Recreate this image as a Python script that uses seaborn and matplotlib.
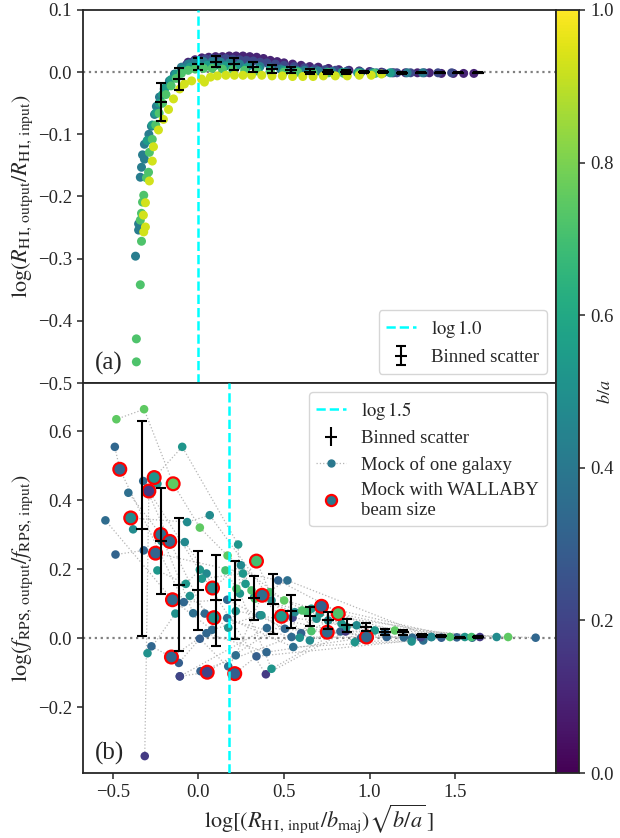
import numpy as np
import pandas as pd
import matplotlib
matplotlib.use('Agg')
import matplotlib.pyplot as plt
from matplotlib.lines import Line2D
import seaborn as sns

# ---- panel (a): R_HI recovery, tracks of mock points (x, y) with b/a ----
track_ba = [0.10, 0.22, 0.42, 0.55, 0.72, 0.93]
track_x = [
    [-0.06, -0.02, 0.02, 0.06, 0.10, 0.14, 0.18, 0.22, 0.26, 0.30, 0.34, 0.38, 0.42, 0.46, 0.50, 0.55, 0.60,
     0.65, 0.70, 0.76, 0.82, 0.88, 0.94, 1.00, 1.07, 1.14, 1.21, 1.28, 1.35, 1.42, 1.49, 1.55, 1.61],
    [-0.14, -0.10, -0.07, -0.04, 0.00, 0.04, 0.08, 0.12, 0.16, 0.20, 0.24, 0.28, 0.32, 0.36, 0.40, 0.45,
     0.50, 0.56, 0.62, 0.68, 0.74, 0.80, 0.87, 0.94, 1.01, 1.08, 1.16, 1.24, 1.32, 1.40, 1.48],
    [-0.368, -0.35, -0.35, -0.34, -0.333, -0.327, -0.316, -0.316, -0.29, -0.275, -0.257, -0.246, -0.228,
     -0.20, -0.17, -0.14, -0.10, -0.06, -0.02, 0.03, 0.08, 0.13, 0.18, 0.24, 0.30, 0.36, 0.42, 0.48, 0.55,
     0.62, 0.70, 0.78, 0.86, 0.95, 1.04, 1.13, 1.22, 1.31],
    [-0.30, -0.27, -0.25, -0.23, -0.21, -0.19, -0.16, -0.13, -0.09, -0.05, 0.00, 0.05, 0.10, 0.16, 0.22,
     0.28, 0.35, 0.42, 0.50, 0.58, 0.66, 0.75, 0.84, 0.93, 1.02, 1.12],
    [-0.363, -0.363, -0.34, -0.333, -0.34, -0.333, -0.327, -0.32, -0.304, -0.292, -0.287, -0.27, -0.25,
     -0.23, -0.21, -0.19, -0.16, -0.13, -0.10, -0.06, -0.02, 0.03, 0.08, 0.14, 0.20, 0.27, 0.34, 0.42,
     0.50, 0.58, 0.67, 0.76, 0.85, 0.94, 1.03],
    [-0.322, -0.32, -0.31, -0.31, -0.287, -0.27, -0.263, -0.234, -0.205, -0.175, -0.146, -0.11, -0.082,
     -0.04, 0.018, 0.035, 0.07, 0.11, 0.16, 0.21, 0.26, 0.31, 0.37, 0.43, 0.49, 0.55, 0.61, 0.67, 0.73,
     0.80, 0.87, 0.94, 1.01, 1.07],
]
track_y = [
    [0.016, 0.020, 0.023, 0.024, 0.025, 0.025, 0.026, 0.026, 0.026, 0.025, 0.024, 0.022, 0.019, 0.017,
     0.015, 0.013, 0.011, 0.009, 0.008, 0.006, 0.004, 0.003, 0.002, 0.001, 0.000, -0.001, -0.001, -0.001,
     -0.001, -0.002, -0.002, -0.002, -0.002],
    [-0.004, 0.006, 0.012, 0.016, 0.019, 0.021, 0.022, 0.022, 0.022, 0.021, 0.020, 0.019, 0.018, 0.016,
     0.015, 0.013, 0.011, 0.009, 0.007, 0.005, 0.004, 0.003, 0.002, 0.001, 0.000, -0.001, -0.001, -0.001,
     -0.001, -0.001, -0.001],
    [-0.296, -0.254, -0.244, -0.169, -0.153, -0.133, -0.140, -0.116, -0.100, -0.087, -0.068, -0.055, -0.040,
     -0.027, -0.014, -0.003, 0.008, 0.013, 0.016, 0.017, 0.017, 0.016, 0.015, 0.013, 0.011, 0.009, 0.007,
     0.005, 0.004, 0.003, 0.002, 0.001, 0.000, 0.000, -0.001, -0.001, -0.001, -0.001],
    [-0.110, -0.085, -0.066, -0.050, -0.036, -0.024, -0.012, -0.003, 0.004, 0.008, 0.010, 0.011, 0.011,
     0.010, 0.009, 0.007, 0.005, 0.004, 0.003, 0.002, 0.001, 0.000, 0.000, -0.001, -0.001, -0.001],
    [-0.466, -0.429, -0.342, -0.272, -0.238, -0.227, -0.209, -0.198, -0.170, -0.161, -0.129, -0.108, -0.085,
     -0.066, -0.050, -0.036, -0.022, -0.010, -0.002, 0.003, 0.005, 0.006, 0.006, 0.005, 0.004, 0.003, 0.002,
     0.001, 0.000, 0.000, -0.001, -0.001, -0.002, -0.002, -0.002],
    [-0.230, -0.257, -0.249, -0.210, -0.175, -0.143, -0.120, -0.093, -0.076, -0.060, -0.043, -0.027, -0.019,
     -0.014, -0.011, -0.016, -0.008, -0.006, -0.005, -0.005, -0.005, -0.005, -0.005, -0.006, -0.006, -0.007,
     -0.007, -0.007, -0.006, -0.006, -0.006, -0.005, -0.005, -0.003],
]

bin_a_x = [-0.22, -0.113, 0.0, 0.105, 0.21, 0.32, 0.43, 0.54, 0.65, 0.76, 0.865, 0.97, 1.08, 1.19, 1.30,
           1.41, 1.52, 1.635]
bin_a_y = [-0.048, -0.011, 0.013, 0.017, 0.013, 0.008, 0.005, 0.003, 0.001, 0.000, 0.000, 0.000, 0.000,
           -0.001, -0.001, -0.001, -0.001, -0.001]
bin_a_err = [0.031, 0.017, 0.010, 0.009, 0.009, 0.008, 0.007, 0.005, 0.004, 0.003, 0.003, 0.002, 0.002,
             0.002, 0.001, 0.001, 0.001, 0.001]

# ---- panel (b): f_RPS recovery, one entry per galaxy ----
gal_ba = [0.33, 0.36, 0.34, 0.32, 0.35, 0.33, 0.30, 0.36, 0.31, 0.34, 0.33,
          0.17, 0.20,
          0.48, 0.52, 0.47, 0.50, 0.53,
          0.75, 0.70, 0.72]
gal_x = [
    [1.971, 1.09, 0.505, 0.168, -0.086, -0.46, -0.489],
    [1.314, 0.554, 0.168, -0.031, -0.22, -0.41],
    [1.20, 0.544, 0.037, -0.168, -0.323],
    [1.10, 0.466, -0.251, -0.32, -0.485],
    [1.00, 0.358, 0.08, -0.152, -0.544],
    [0.95, 0.398, 0.047, -0.158, -0.275],
    [1.42, 0.339, 0.212, 0.008, -0.115],
    [1.36, 0.52, 0.372, 0.218, 0.174],
    [1.51, 0.719, 0.60, 0.012],
    [1.25, 0.753, 0.40, -0.109],
    [1.60, 0.982, 0.83],
    [1.645, 0.86, 0.394, -0.29, -0.314],
    [1.30, 0.55, 0.051, -0.109],
    [1.743, 0.924, 0.651, 0.427, 0.066, -0.066, -0.396, -0.382],
    [1.557, 0.914, 0.865, 0.427, 0.242, 0.232, -0.095, -0.259, -0.24],
    [1.363, 0.758, 0.563, 0.326, 0.248, 0.082, 0.047, -0.08, -0.216],
    [1.246, 0.69, 0.592, 0.368, 0.218, 0.174, 0.09, -0.05, -0.135, -0.298],
    [1.031, 0.836, 0.709, 0.66, 0.485, 0.275, 0.26, 0.02, 0.008, -0.074, -0.24],
    [1.81, 1.148, 0.501, 0.17, 0.008, -0.148, -0.318, -0.48],
    [1.596, 0.637, 0.417, 0.339, 0.222, 0.158],
    [1.47, 0.817, 0.66, 0.606, 0.33, 0.31],
]
gal_y = [
    [0.002, 0.018, 0.028, 0.112, 0.105, 0.49, 0.555],
    [-0.006, -0.025, 0.059, 0.073, 0.301, 0.422],
    [0.003, 0.004, 0.072, 0.281, 0.456],
    [0.004, 0.168, 0.247, 0.255, 0.243],
    [0.002, 0.067, 0.025, 0.112, 0.342],
    [0.001, -0.040, 0.015, -0.054, -0.023],
    [0.002, -0.052, -0.102, -0.001, -0.071],
    [0.004, 0.168, 0.125, -0.049, -0.081],
    [0.003, 0.093, 0.015, -0.095],
    [0.002, 0.018, 0.030, -0.110],
    [0.002, 0.004, 0.020],
    [0.004, 0.020, -0.104, 0.427, -0.341],
    [0.003, 0.060, -0.098, -0.110],
    [0.004, 0.038, -0.006, 0.110, 0.357, 0.337, 0.349, 0.316],
    [0.004, -0.011, 0.033, -0.088, 0.130, 0.272, 0.555, 0.466, 0.448],
    [0.004, 0.052, 0.076, 0.120, 0.212, 0.146, 0.188, 0.279, 0.282],
    [-0.009, 0.057, 0.002, 0.067, 0.079, 0.031, 0.060, 0.123, 0.072, -0.043],
    [0.023, 0.043, 0.072, 0.086, 0.064, 0.158, 0.188, 0.173, 0.199, 0.158, 0.197],
    [0.004, 0.023, 0.110, 0.240, 0.321, 0.448, 0.664, 0.635],
    [0.004, 0.076, 0.134, 0.224, 0.144, 0.197],
    [0.004, 0.072, 0.021, 0.081, 0.115, 0.139],
]
# index of the point made with the WALLABY beam size in each galaxy
gal_beam = [5, 4, 3, 2, 3, 3, 2, 2, 1, 1, 1, 3, 2, 6, 7, 5, 6, 4, 5, 3, 1]

bin_b_x = [-0.33, -0.22, -0.113, 0.0, 0.105, 0.212, 0.323, 0.433, 0.54, 0.651, 0.758, 0.87, 0.978, 1.09,
           1.197, 1.308, 1.417, 1.528, 1.635]
bin_b_y = [0.318, 0.282, 0.156, 0.139, 0.110, 0.112, 0.117, 0.100, 0.078, 0.064, 0.052, 0.038, 0.033, 0.018,
           0.018, 0.009, 0.006, 0.002, 0.004]
bin_b_err = [0.312, 0.153, 0.193, 0.114, 0.133, 0.113, 0.065, 0.088, 0.049, 0.027, 0.024, 0.019, 0.012,
             0.008, 0.007, 0.004, 0.003, 0.002, 0.002]

# ---- tables ----
rows = []
for ba, xs, ys in zip(track_ba, track_x, track_y):
    for xv, yv in zip(xs, ys):
        rows.append((xv, yv, ba))
df_a = pd.DataFrame(rows, columns=['x', 'y', 'ba'])

rows = []
for g, (ba, xs, ys, ib) in enumerate(zip(gal_ba, gal_x, gal_y, gal_beam)):
    for i, (xv, yv) in enumerate(zip(xs, ys)):
        rows.append((g, xv, yv, ba, i == ib))
df_b = pd.DataFrame(rows, columns=['gal', 'x', 'y', 'ba', 'beam'])

# ---- style ----
sns.set_style('ticks')
plt.rcParams['font.family'] = ['Liberation Serif', 'DejaVu Serif']
plt.rcParams['mathtext.fontset'] = 'stix'
plt.rcParams['font.size'] = 13.5
plt.rcParams['xtick.labelsize'] = 13.5
plt.rcParams['ytick.labelsize'] = 13.5
plt.rcParams['axes.linewidth'] = 1.3
plt.rcParams['xtick.major.width'] = 1.1
plt.rcParams['ytick.major.width'] = 1.1
plt.rcParams['xtick.major.size'] = 4.5
plt.rcParams['ytick.major.size'] = 4.5

cmap = plt.get_cmap('viridis')
norm = plt.Normalize(0, 1)

fig = plt.figure(figsize=(6.2, 8.38), dpi=100)
L, W = 83 / 620, (556 - 83) / 620
ax1 = fig.add_axes([L, 1 - 383 / 838, W, (383 - 10) / 838])
ax2 = fig.add_axes([L, 1 - 773 / 838, W, (773 - 383) / 838], sharex=ax1)
cax = fig.add_axes([556 / 620, 1 - 773 / 838, 23 / 620, (773 - 10) / 838])

xlim = (-0.675, 2.09)
lab_fs = 16

# panel (a)
ax1.axhline(0, color='grey', ls=':', lw=1.6, zorder=0)
sns.scatterplot(data=df_a, x='x', y='y', hue='ba', palette='viridis', hue_norm=(0, 1),
                s=42, linewidth=0, legend=False, ax=ax1, zorder=2)
eb_a = ax1.errorbar(bin_a_x, bin_a_y, yerr=bin_a_err, fmt='_', color='k', ms=9, mew=1.5,
                    elinewidth=1.5, capsize=3.5, capthick=1.5, zorder=4)
vl_a = ax1.axvline(np.log10(1.0), color='cyan', ls='--', lw=1.8, zorder=5)
ax1.set_xlim(*xlim)
ax1.set_ylim(-0.5, 0.1)
ax1.set_yticks([-0.5, -0.4, -0.3, -0.2, -0.1, 0.0, 0.1])
ax1.set_ylabel(r'$\log(R_{\mathrm{H\,I,\,output}}/R_{\mathrm{H\,I,\,input}})$', fontsize=lab_fs, labelpad=2)
ax1.tick_params(axis='x', labelbottom=False)
ax1.set_xlabel('')
ax1.text(0.025, 0.035, '(a)', transform=ax1.transAxes, fontsize=18)
ax1.legend([vl_a, eb_a], [r'$\log 1.0$', 'Binned scatter'], loc='lower right', fontsize=13.5,
           handlelength=1.6, borderaxespad=0.5)

# panel (b)
for g, sub in df_b.groupby('gal'):
    ax2.plot(sub['x'], sub['y'], ls=':', color='#b5b5b5', lw=0.9, zorder=1)
ax2.axhline(0, color='grey', ls=':', lw=1.6, zorder=0)
sns.scatterplot(data=df_b[~df_b['beam']], x='x', y='y', hue='ba', palette='viridis', hue_norm=(0, 1),
                s=38, linewidth=0, legend=False, ax=ax2, zorder=2)
sns.scatterplot(data=df_b[df_b['beam']], x='x', y='y', hue='ba', palette='viridis', hue_norm=(0, 1),
                s=85, edgecolor='red', linewidth=1.6, legend=False, ax=ax2, zorder=3)
ax2.errorbar(bin_b_x, bin_b_y, yerr=bin_b_err, fmt='_', color='k', ms=9, mew=1.5,
             elinewidth=1.5, capsize=3.5, capthick=1.5, zorder=4)
ax2.axvline(np.log10(1.5), color='cyan', ls='--', lw=1.8, zorder=5)
ax2.set_ylim(-0.39, 0.74)
ax2.set_yticks([-0.2, 0.0, 0.2, 0.4, 0.6])
ax2.set_xticks([-0.5, 0.0, 0.5, 1.0, 1.5])
ax2.set_xlim(*xlim)
ax2.set_ylabel(r'$\log(f_{\mathrm{RPS,\,output}}/f_{\mathrm{RPS,\,input}})$', fontsize=lab_fs, labelpad=2)
ax2.set_xlabel(r'$\log[(R_{\mathrm{H\,I,\,input}}/b_{\mathrm{maj}})\sqrt{b/a}\,]$', fontsize=lab_fs,
               labelpad=1)
ax2.text(0.025, 0.035, '(b)', transform=ax2.transAxes, fontsize=18)

eb = ax2.errorbar([], [], yerr=[], fmt='_', color='k', ms=9, mew=1.5, elinewidth=1.5,
                  capsize=3.5, capthick=1.5)
handles = [
    Line2D([], [], color='cyan', ls='--', lw=1.8),
    eb,
    Line2D([], [], color='#b5b5b5', ls=':', lw=0.9, marker='o', ms=5,
           mfc=cmap(0.4), mec=cmap(0.4)),
    Line2D([], [], ls='none', marker='o', ms=8, mfc=cmap(0.4), mec='red', mew=1.6),
]
labels = [r'$\log 1.5$', 'Binned scatter', 'Mock of one galaxy', 'Mock with WALLABY\nbeam size']
ax2.legend(handles, labels, loc='upper right', fontsize=13.5, handlelength=1.6, borderaxespad=0.5,
           labelspacing=0.45)

for ax in (ax1, ax2):
    for s in ax.spines.values():
        s.set_visible(True)

sm = plt.cm.ScalarMappable(cmap=cmap, norm=norm)
cb = fig.colorbar(sm, cax=cax)
cb.set_ticks([0.0, 0.2, 0.4, 0.6, 0.8, 1.0])
cb.set_label(r'$b/a$', fontsize=13)
cb.ax.yaxis.set_label_coords((597 - 556) / 23, 0.5)

fig.savefig('out.png', dpi=100)
